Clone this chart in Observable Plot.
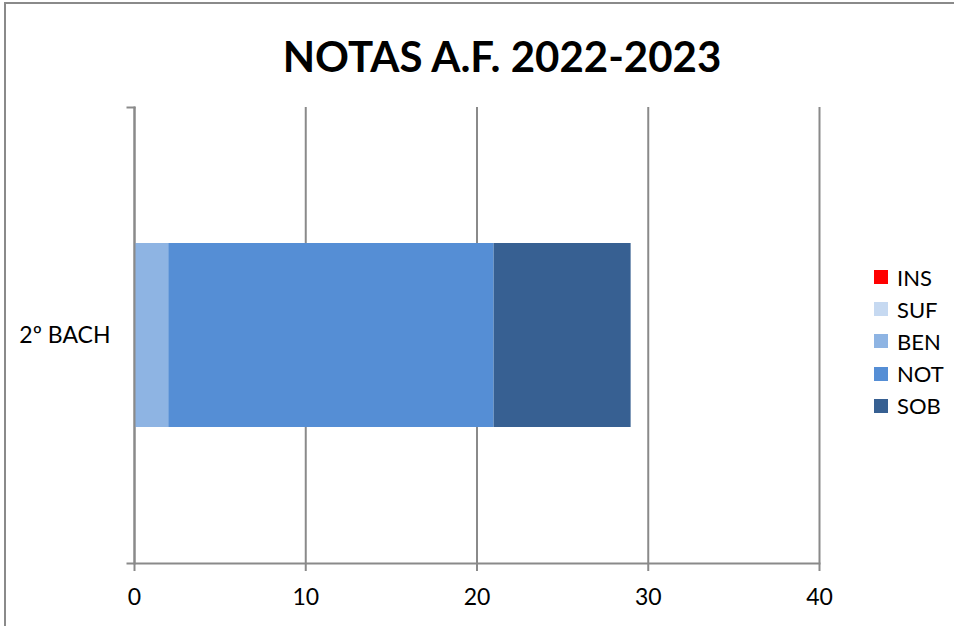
<!DOCTYPE html>
<html>
<head>
<meta charset="utf-8">
<script src="https://cdn.jsdelivr.net/npm/d3@7"></script>
<script src="https://cdn.jsdelivr.net/npm/@observablehq/plot@0.6"></script>
<style>
  html, body { margin: 0; padding: 0; background: #fff; }
  body { width: 954px; height: 626px; overflow: hidden; position: relative; font-family: Lato, "Open Sans", sans-serif; }
  #border { position: absolute; left: 4px; top: 2px; width: 1200px; height: 1200px; border-left: 2px solid #8a8a8a; border-top: 2px solid #8a8a8a; }
  #title { position: absolute; left: 0; width: 1004px; top: 31px; text-align: center; font-weight: 700; font-size: 42px; color: #000; }
  #chart { position: absolute; left: 0; top: 0; }
  #legend { position: absolute; left: 874px; top: 261px; font-size: 22px; color: #000; }
  .item { display: flex; align-items: center; height: 32.2px; }
  .sw { width: 14px; height: 14px; margin-right: 9px; }
</style>
</head>
<body>
<div id="border"></div>
<div id="title">NOTAS A.F. 2022-2023</div>
<div id="chart"></div>
<div id="legend"></div>
<script>
const categories = ["2º BACH"];
const grades = ["INS", "SUF", "BEN", "NOT", "SOB"];
const values = [0, 0, 2, 19, 8];
const colors = ["#FF0000", "#C6D9F1", "#8EB4E3", "#558ED5", "#376092"];
const xTicks = [0, 10, 20, 30, 40];

const data = grades.map((g, i) => ({category: categories[0], grade: g, value: values[i]}));

const W = 954, H = 626, ML = 134, MR = 135, MT = 107, MB = 63;
const grid = "#8a8a8a";

const plot = Plot.plot({
  width: W, height: H,
  marginLeft: ML, marginRight: MR, marginTop: MT, marginBottom: MB,
  style: {fontFamily: "Lato, 'Open Sans', sans-serif", fontSize: "23px", color: "#000", background: "transparent"},
  x: {domain: [0, 40], ticks: xTicks},
  y: {domain: categories, padding: 0.425},
  color: {domain: grades, range: colors},
  marks: [
    Plot.gridX(xTicks, {stroke: grid, strokeWidth: 2, strokeOpacity: 1}),
    Plot.barX(data, Plot.stackX({x: "value", y: "category", fill: "grade", order: grades})),
    Plot.frame({anchor: "left", stroke: grid, strokeWidth: 2}),
    Plot.frame({anchor: "bottom", stroke: grid, strokeWidth: 2, insetLeft: -7}),
    Plot.frame({anchor: "top", stroke: grid, strokeWidth: 2, insetLeft: -7, insetRight: W - ML - MR}),
    Plot.axisX(xTicks, {anchor: "bottom", tickSize: 8, tickPadding: 17, stroke: grid, strokeWidth: 2, strokeOpacity: 1, fill: "#000", fontSize: 23, label: null}),
    Plot.axisY({anchor: "left", tickSize: 0, tickPadding: 24, fill: "#000", fontSize: 23, label: null})
  ]
});
document.getElementById("chart").appendChild(plot);

const legend = d3.select("#legend");
grades.forEach((g, i) => {
  const it = legend.append("div").attr("class", "item");
  it.append("div").attr("class", "sw").style("background", colors[i]);
  it.append("span").text(g);
});
</script>
</body>
</html>
